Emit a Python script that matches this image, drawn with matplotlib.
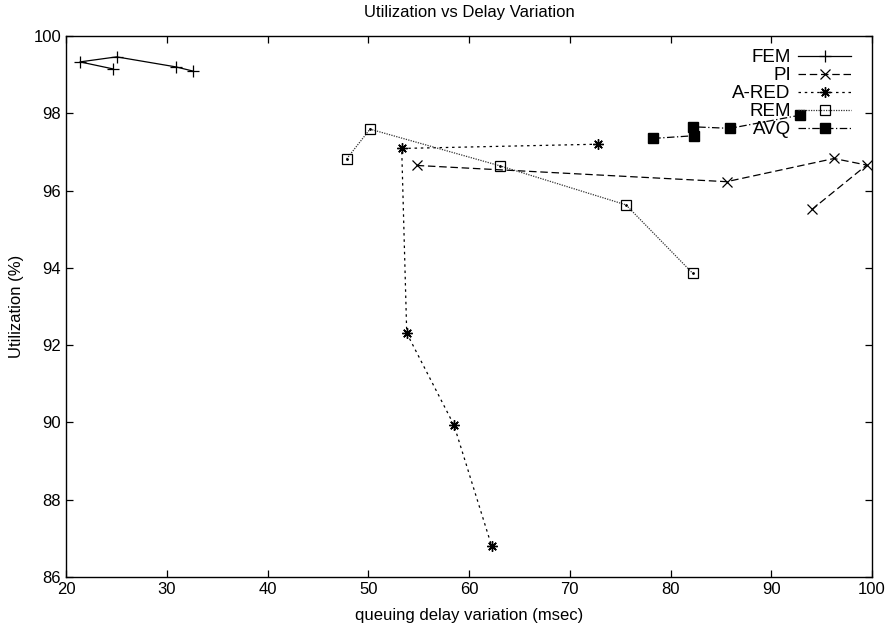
"""Utilization vs delay variation for the AQM schemes (gnuplot-style figure)."""
import matplotlib
matplotlib.use("Agg")
import matplotlib.pyplot as plt

plt.rcParams["font.family"] = ["Liberation Sans", "DejaVu Sans"]

# queuing delay variation (msec) / utilization (%) per scheme
fem_x = [24.64, 21.39, 25.03, 30.92, 32.64]
fem_y = [99.15, 99.33, 99.46, 99.20, 99.09]
pi_x = [54.81, 85.57, 96.23, 99.47, 94.08]
pi_y = [96.65, 96.23, 96.83, 96.66, 95.52]
ared_x = [72.83, 53.32, 53.82, 58.51, 62.25]
ared_y = [97.20, 97.09, 92.31, 89.93, 86.80]
rem_x = [47.86, 50.17, 63.08, 75.58, 82.20]
rem_y = [96.82, 97.59, 96.64, 95.63, 93.86]
avq_x = [78.29, 82.36, 82.26, 85.90, 92.85]
avq_y = [97.35, 97.42, 97.65, 97.61, 97.95]

x_ticks = list(range(20, 101, 10))
y_ticks = list(range(86, 101, 2))

fig = plt.figure(figsize=(8.88, 6.31), dpi=100)
ax = fig.add_axes([66 / 888, 1 - 577 / 631, 806 / 888, 541 / 631])

lw = 0.9
ax.plot(fem_x, fem_y, "-", color="k", lw=lw, marker="+", ms=8, mew=0.9, label="FEM")
ax.plot(pi_x, pi_y, color="k", lw=lw, ls=(0, (6, 3)), marker="x", ms=6.5, mew=0.9, label="PI")
ax.plot(ared_x, ared_y, color="k", lw=lw, ls=(0, (2, 3)), marker=(8, 2, 0), ms=7.5, mew=1.0, label="A-RED")
ax.plot(rem_x, rem_y, color="#333333", lw=lw, ls=(0, (1, 1)), marker="s", ms=6.5, mfc="none",
        mec="k", mew=0.9, label="REM")
ax.plot(rem_x, rem_y, ls="none", marker=".", ms=2, color="k")
ax.plot(avq_x, avq_y, color="k", lw=lw, ls=(0, (6, 2, 1, 2)), marker="s", ms=6.5, label="AVQ")

ax.set_xlim(20, 100)
ax.set_ylim(86, 100)
ax.set_xticks(x_ticks)
ax.set_yticks(y_ticks)
ax.tick_params(direction="in", top=True, right=True, length=5, width=0.9, labelsize=12)
for s in ax.spines.values():
    s.set_linewidth(1.0)

ax.set_title("Utilization vs Delay Variation", fontsize=12, pad=14)
ax.set_xlabel("queuing delay variation (msec)", fontsize=12, labelpad=8)
ax.set_ylabel("Utilization (%)", fontsize=12, labelpad=7)

ax.legend(loc="upper right", frameon=False, markerfirst=False, fontsize=13.5,
          handlelength=2.8, labelspacing=0.05, handletextpad=0.4,
          borderaxespad=0.4, borderpad=0.3, bbox_to_anchor=(0.99, 1.0))

fig.savefig("out.png", dpi=100)
